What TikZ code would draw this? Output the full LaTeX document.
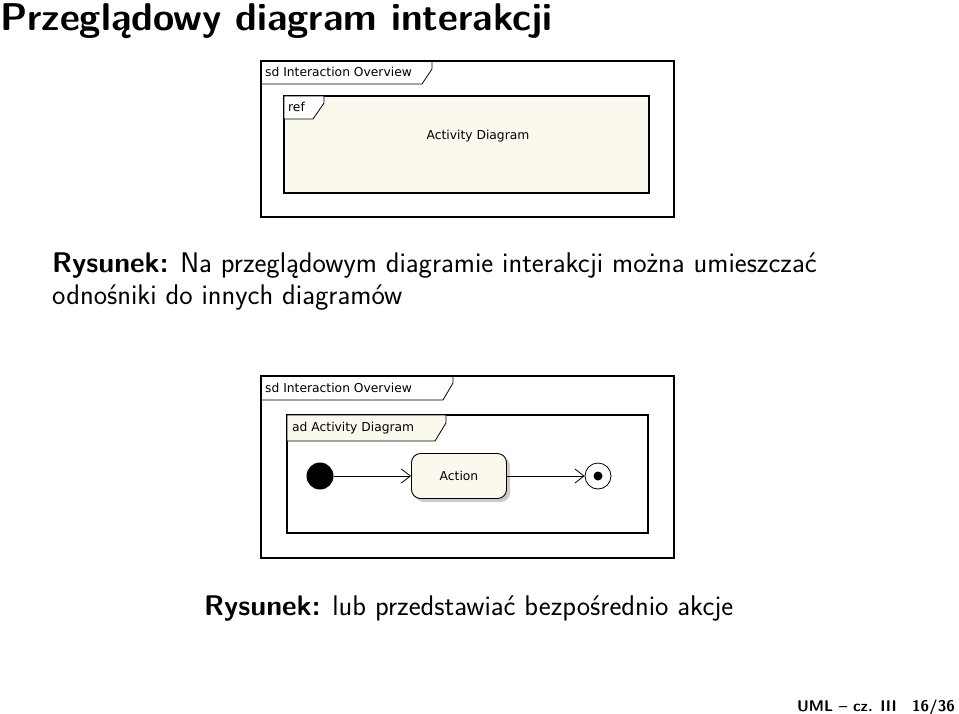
\documentclass[tikz,border=0pt]{standalone}
\usepackage{fontspec}
\newfontfamily\umlfont{DejaVu Sans}
\usetikzlibrary{arrows.meta}
\definecolor{cream}{HTML}{FBF8EE}
\tikzset{
  frame/.style={draw=black, line width=1.2pt},
  tabstyle/.style={draw=black, line width=0.8pt},
  uml/.style={font=\umlfont\fontsize{12.3}{14}\selectfont, inner sep=0pt},
  slide/.style={font=\sffamily\fontsize{28.4}{32}\selectfont, inner sep=0pt, anchor=base west},
  flow/.style={draw=black, line width=0.8pt, -{Straight Barb[length=9pt,width=14pt]}},
}
\begin{document}
\begin{tikzpicture}[x=1pt,y=-1pt]
\useasboundingbox (0,0) rectangle (959,713);
% title
\node[slide, font=\sffamily\bfseries\fontsize{38.7}{42}\selectfont] (title) at (0,30) {Przeglądowy diagram interakcji};
% ---- diagram 1
\draw[frame] (261,61) rectangle (674,217);
\draw[tabstyle] (261,84) -- (422,84) -- (432,69) -- (432,61);
\node[uml, anchor=west] (sd1) at (265,72) {sd Interaction Overview};
\draw[frame, fill=cream] (284,96) rectangle (649,193);
\draw[tabstyle, fill=white] (284,96) -- (324,96) -- (324,103) -- (313,119) -- (284,119) -- cycle;
\node[uml, anchor=west] (ref) at (288,107) {ref};
\node[uml] (ad1) at (478,136) {Activity Diagram};
% caption 1
\node[slide] (cap1) at (52,272) {\textbf{Rysunek:} Na przeglądowym diagramie interakcji można umieszczać};
\node[slide] (cap1b) at (52,304) {odnośniki do innych diagramów};
% ---- diagram 2
\draw[frame] (261,376) rectangle (674,558);
\draw[tabstyle] (261,400) -- (443,400) -- (453,383) -- (453,376);
\node[uml, anchor=west] (sd2) at (265,388) {sd Interaction Overview};
\draw[frame] (287,415) rectangle (648,533);
\draw[tabstyle, fill=cream] (287,415) -- (446,415) -- (446,423) -- (435,441) -- (287,441) -- cycle;
\node[uml, anchor=west] (ad2) at (292,428) {ad Activity Diagram};
\node[circle, fill=black, minimum size=27pt, inner sep=0pt] (init) at (320,476) {};
\fill[gray!40, rounded corners=9pt] (415,457) rectangle (510,502);
\node[draw=black, line width=0.9pt, fill=cream, rounded corners=9pt, minimum width=95pt, minimum height=45pt, uml] (action) at (459,476) {Action};
\node[circle, draw=black, line width=0.8pt, minimum size=26pt, inner sep=0pt] (final) at (598,476) {};
\fill[black] (final.center) circle (4.5pt);
\draw[flow] (init) -- (action);
\draw[flow] (action) -- (final);
% caption 2
\node[slide] (cap2) at (204,615) {\textbf{Rysunek:} lub przedstawiać bezpośrednio akcje};
% footer
\node[inner sep=0pt, anchor=base east, font=\sffamily\bfseries\fontsize{15.5}{18}\selectfont] (foot) at (955,711) {UML -- cz. III\quad 16/36};
\end{tikzpicture}
\end{document}
